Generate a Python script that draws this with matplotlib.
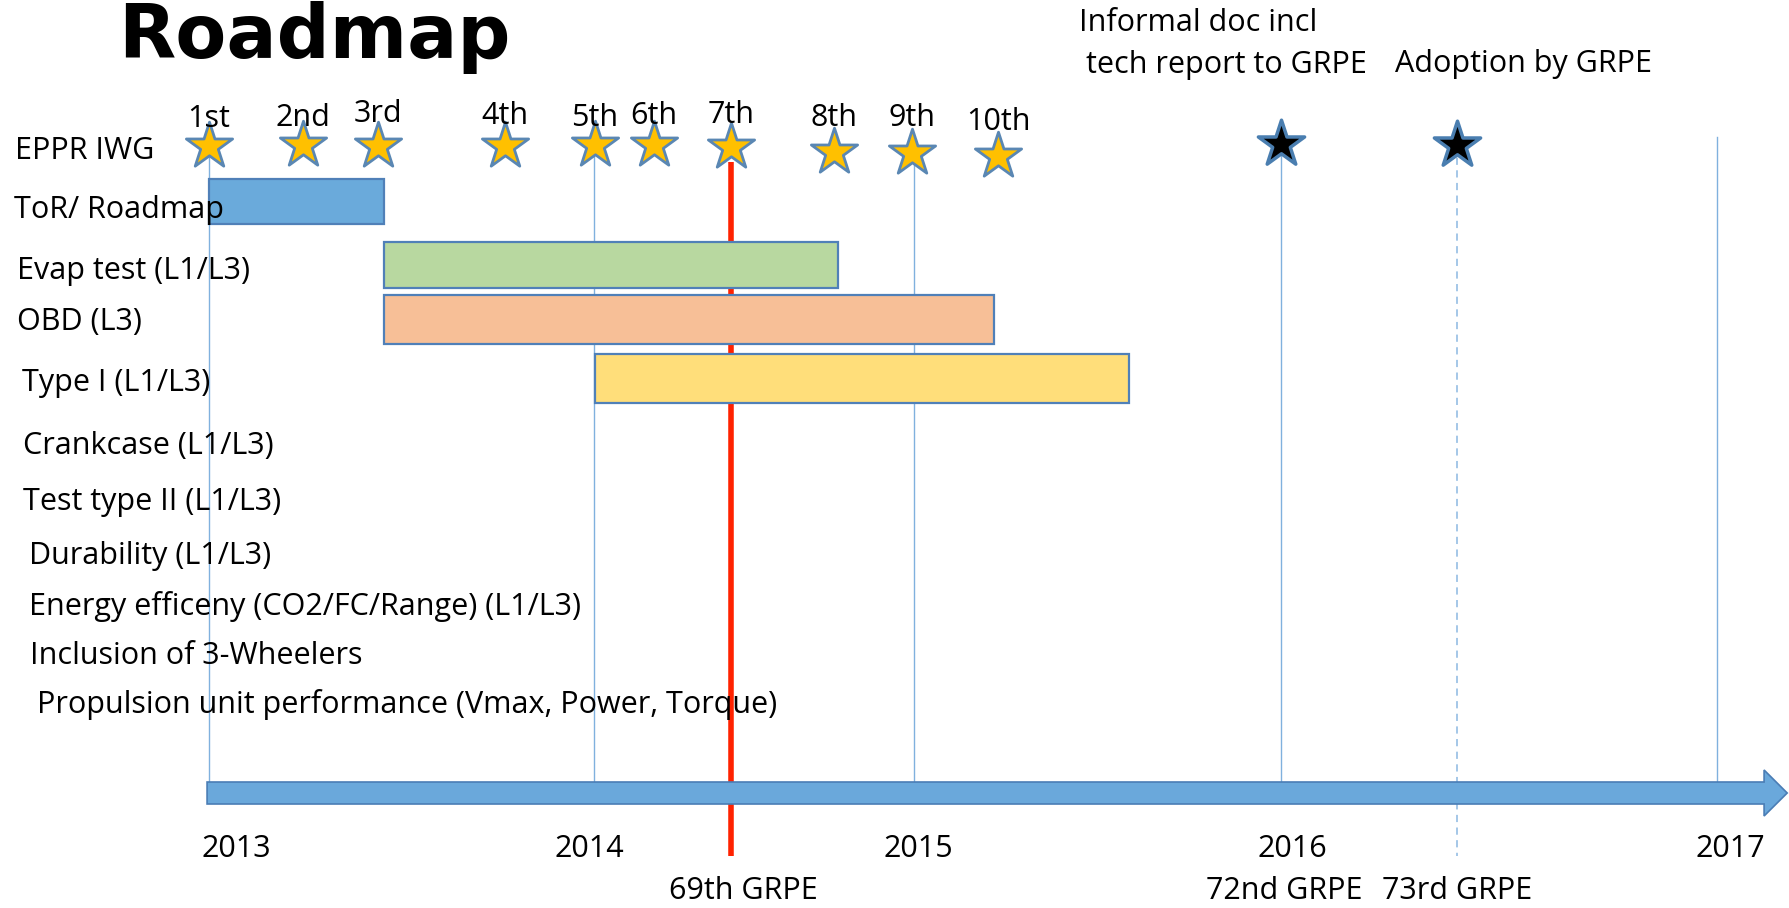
import numpy as np
import matplotlib
matplotlib.use('Agg')
import matplotlib.pyplot as plt
from matplotlib.patches import FancyArrow

# timeline: where each year sits on the slide (the original spacing is uneven)
years = [2013, 2014, 2015, 2016, 2017]
year_px = [209, 594, 914, 1281, 1717]

# EPPR IWG meetings
meetings = ['1st', '2nd', '3rd', '4th', '5th', '6th', '7th', '8th', '9th', '10th']
meeting_dates = [2013.0, 2013.244, 2013.439, 2013.769, 2014.003, 2014.187,
                 2014.428, 2014.75, 2014.994, 2015.229]

# GRPE milestones (black stars)
milestone_dates = [2016.0, 2016.404]
milestone_text = ['Informal doc incl', 'tech report to GRPE', 'Adoption by GRPE']

# work items with bars
tasks = ['ToR/ Roadmap', 'Evap test (L1/L3)', 'OBD (L3)', 'Type I (L1/L3)']
task_start = [2013.0, 2013.455, 2013.455, 2014.003]
task_end = [2013.455, 2014.763, 2015.218, 2015.586]
task_colors = ['#6aaadb', '#b8d8a0', '#f7bf97', '#ffde7a']

# other work items (no bar)
other_items = ['Crankcase (L1/L3)', 'Test type II (L1/L3)', 'Durability (L1/L3)',
               'Energy efficeny (CO2/FC/Range) (L1/L3)', 'Inclusion of 3-Wheelers',
               'Propulsion unit performance (Vmax, Power, Torque)']

grpe_sessions = ['69th GRPE', '72nd GRPE', '73rd GRPE']
grpe_dates = [2014.428, 2016.0, 2016.404]
today = 2014.428


def fwd(x):
    x = np.asarray(x, dtype=float)
    y = np.interp(x, years, year_px)
    lo_slope = (year_px[1] - year_px[0]) / (years[1] - years[0])
    hi_slope = (year_px[-1] - year_px[-2]) / (years[-1] - years[-2])
    y = np.where(x < years[0], year_px[0] + (x - years[0]) * lo_slope, y)
    y = np.where(x > years[-1], year_px[-1] + (x - years[-1]) * hi_slope, y)
    return y


def inv(p):
    p = np.asarray(p, dtype=float)
    x = np.interp(p, year_px, years)
    lo_slope = (years[1] - years[0]) / (year_px[1] - year_px[0])
    hi_slope = (years[-1] - years[-2]) / (year_px[-1] - year_px[-2])
    x = np.where(p < year_px[0], years[0] + (p - year_px[0]) * lo_slope, x)
    x = np.where(p > year_px[-1], years[-1] + (p - year_px[-1]) * hi_slope, x)
    return x


W, H = 1790, 908
fig = plt.figure(figsize=(W / 100, H / 100), dpi=100)
ax = fig.add_axes([0, 0, 1, 1])
ax.set_xscale('function', functions=(fwd, inv))
ax.set_xlim(float(inv(0)), float(inv(W)))
ax.set_ylim(H, 0)
ax.axis('off')

FONT = 'Open Sans'
FS = 22
line_c = '#80b1de'

# thin vertical guides
guide_top = [146, 145, 153, 144, 137]
for yr, top in zip(years, guide_top):
    ax.plot([yr, yr], [top, 783], color=line_c, lw=1, zorder=1)
ax.plot([milestone_dates[1]] * 2, [145, 856], color='#9dc3e6', lw=1.3,
        dashes=(4, 3), zorder=1)

# red "today" line
ax.plot([today, today], [162, 856], color='#ff2200', lw=4, zorder=2,
        solid_capstyle='butt')

# bars
bar_y = [201.5, 265, 319.5, 378.5]
bar_h = [45, 46, 49, 49]
ax.barh(bar_y, np.array(task_end) - np.array(task_start), left=task_start,
        height=bar_h, color=task_colors, edgecolor='#5080b8', linewidth=1.6,
        zorder=3)

# timeline arrow
arr = FancyArrow(2012.995, 793, 2017.161 - 2012.995, 0, width=22, head_width=46,
                 head_length=0.053, length_includes_head=True,
                 facecolor='#6aa8db', edgecolor='#4a7db5', linewidth=1.2, zorder=4)
ax.add_patch(arr)

# meeting stars
star_y = [146, 145, 146, 146, 145, 145, 147, 152, 153, 156]
label_y = [119, 118, 114, 116, 118, 116, 115, 118, 118, 122]
ax.scatter(meeting_dates, star_y, marker='*', s=35 ** 2, c='#ffc000',
           edgecolors='#5a87b3', linewidths=2, zorder=5)
for d, yy, name in zip(meeting_dates, label_y, meetings):
    ax.text(d, yy, name, ha='center', va='center', fontsize=FS, family=FONT, zorder=6)

# milestone stars
ax.scatter(milestone_dates, [144, 145], marker='*', s=35 ** 2, c='black',
           edgecolors='#4a7eb0', linewidths=2.5, zorder=5)

# left labels
label_x = [15, 14, 17, 17, 22, 23, 23, 29, 29, 30, 37]
row_y = [151, 210, 271, 322, 383, 446, 502, 556, 606, 656, 704]
for x, y, s in zip(label_x, row_y, ['EPPR IWG'] + tasks + other_items):
    fig.text(x / W, 1 - y / H, s, ha='left', va='center', fontsize=FS,
             family=FONT, zorder=7)

# top annotations
note_x = [1079, 1086, 1395]
note_y = [23, 65, 64]
for x, y, s in zip(note_x, note_y, milestone_text):
    fig.text(x / W, 1 - y / H, s, ha='left', va='center', fontsize=FS, family=FONT)

# year labels
year_label_x = [2013.072, 2013.987, 2015.011, 2016.027, 2017.03]
for x, yr in zip(year_label_x, years):
    ax.text(x, 849, str(yr), ha='center', va='center', fontsize=FS, family=FONT)

grpe_label_x = [2014.466, 2016.008, 2016.404]
for x, s in zip(grpe_label_x, grpe_sessions):
    ax.text(x, 891, s, ha='center', va='center', fontsize=FS, family=FONT)

# title
fig.text(118 / W, 1 - 58 / H, 'Roadmap', ha='left', va='baseline', fontsize=53.5,
         fontweight='bold', family='DejaVu Sans')

fig.savefig('out.png', dpi=100)
